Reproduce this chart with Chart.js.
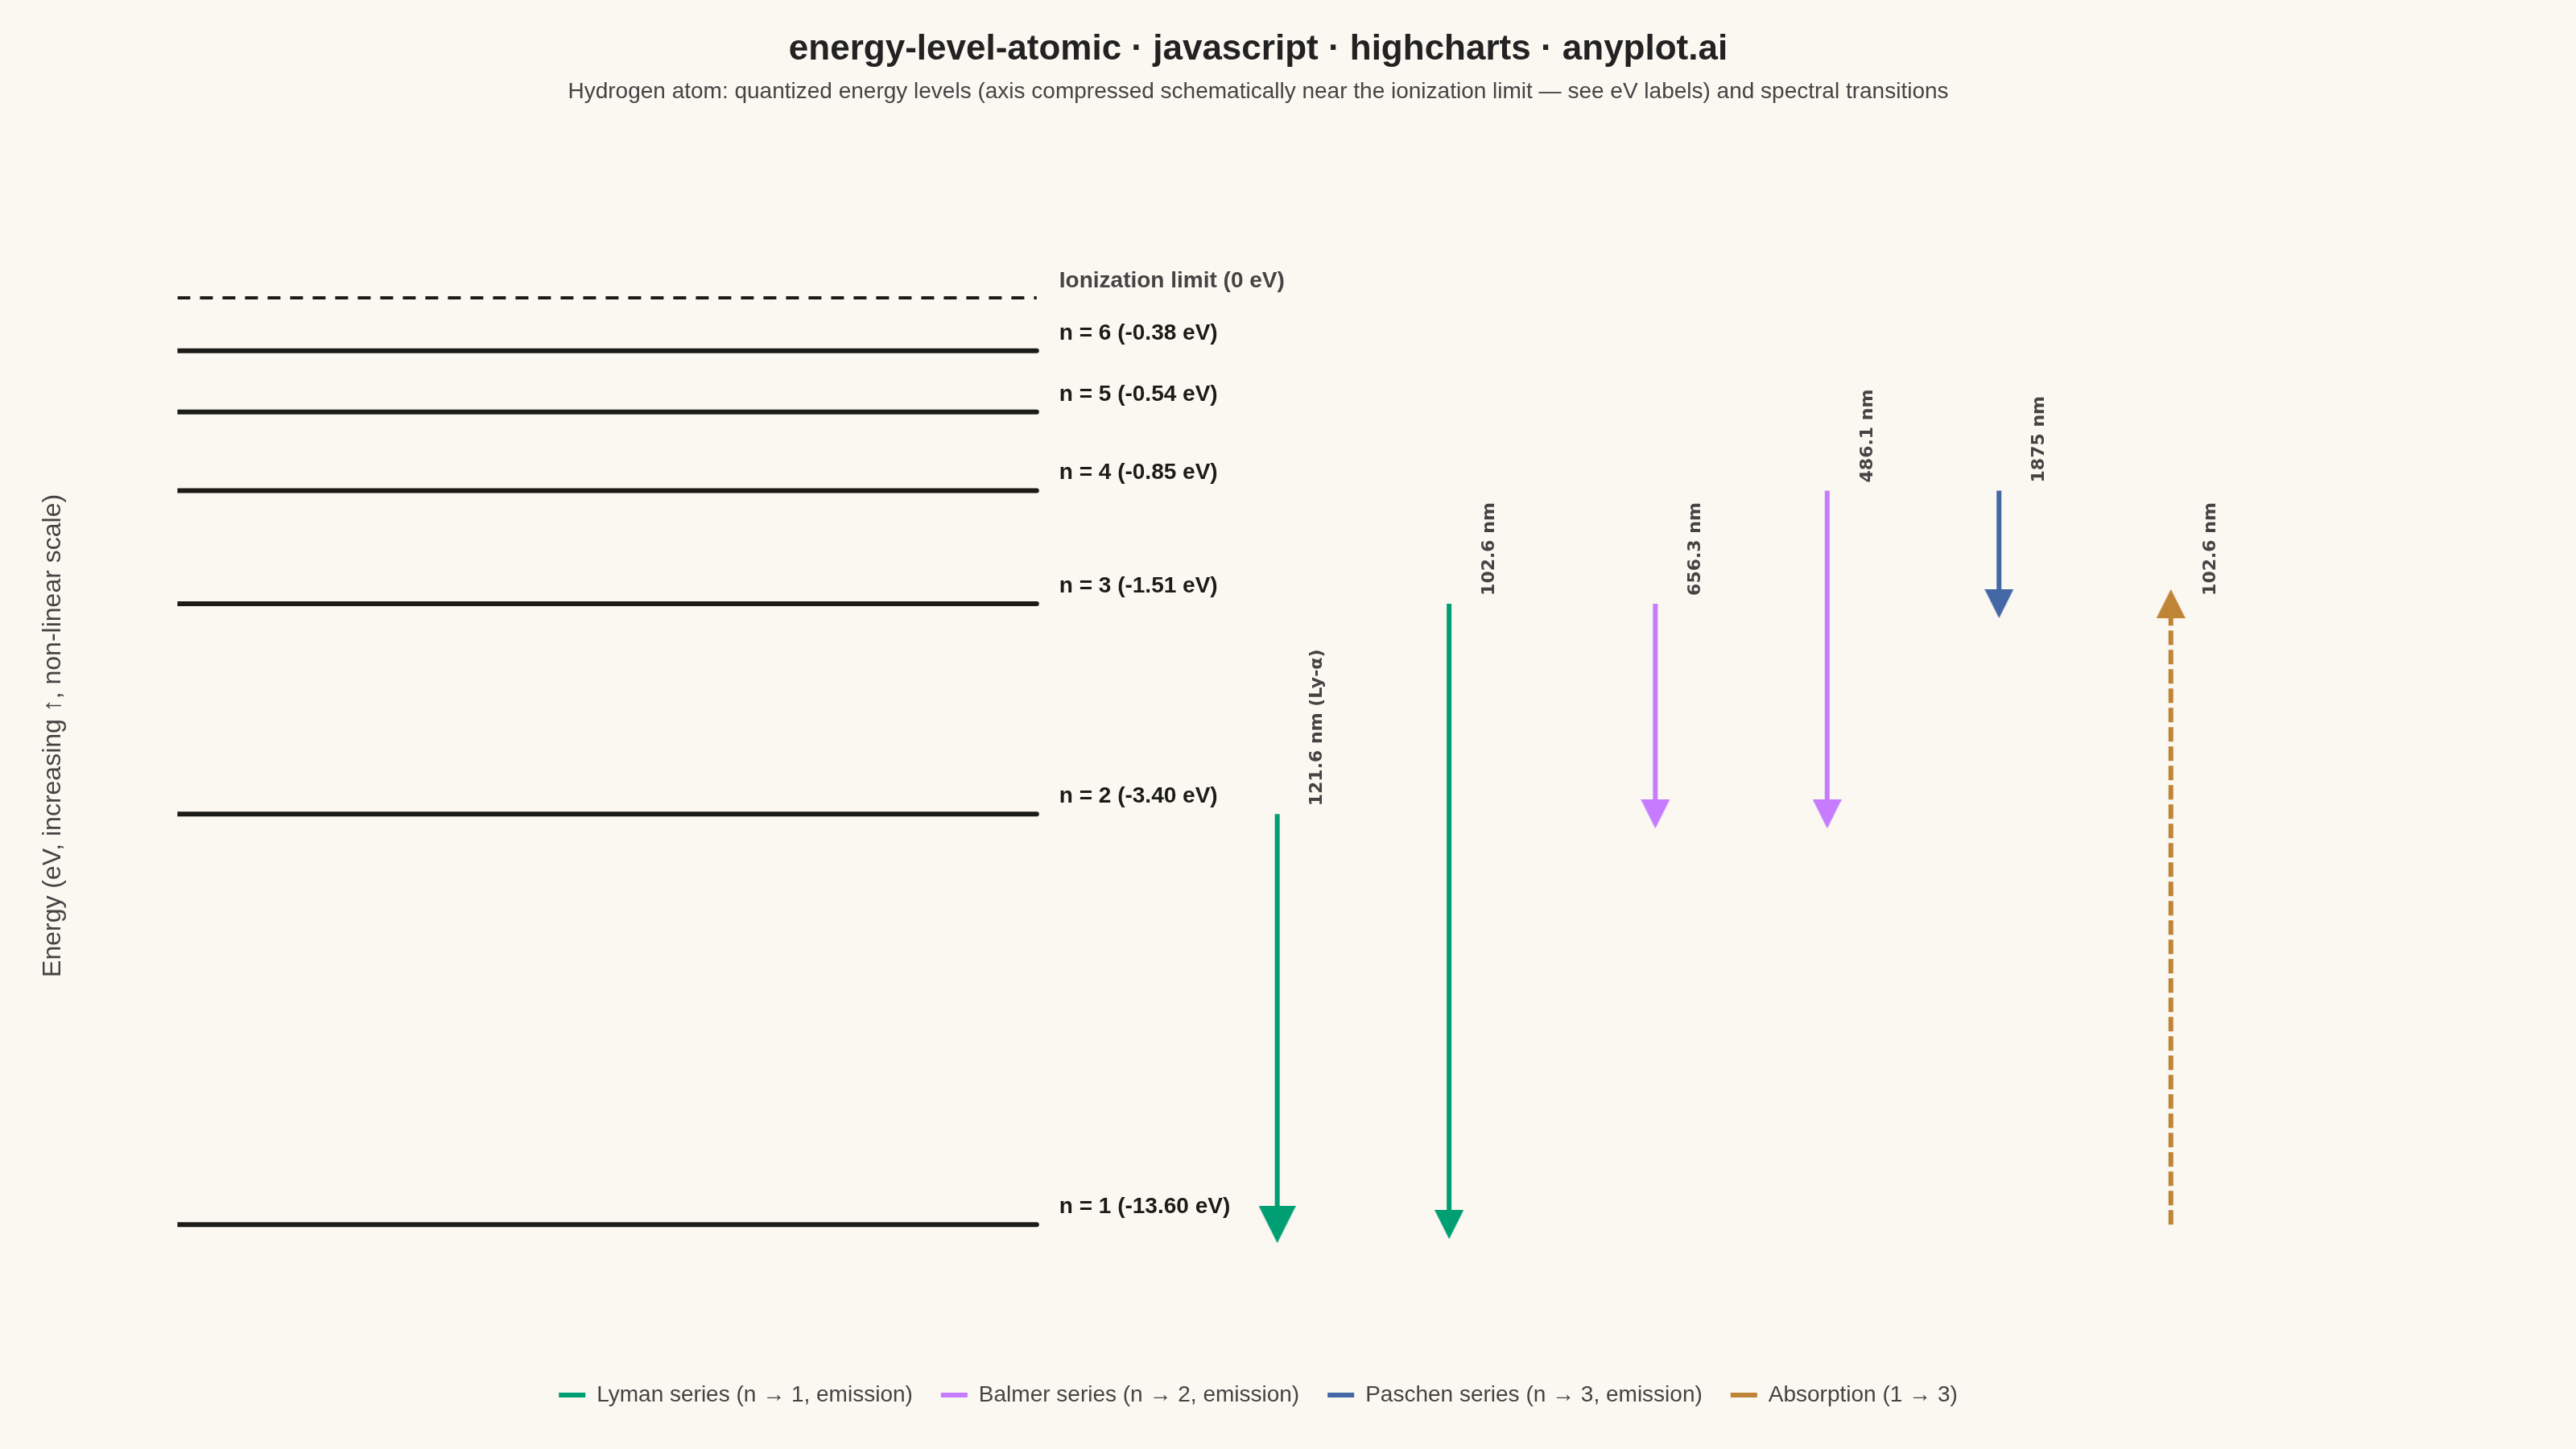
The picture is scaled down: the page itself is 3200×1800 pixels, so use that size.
<!DOCTYPE html>
<html lang="en">
<head>
<meta charset="UTF-8" />
<title>energy-level-atomic</title>
<script src="https://cdn.jsdelivr.net/npm/chart.js"></script>
<style>
  body { margin: 0; background: #faf8f1; }
  #chart { display: block; }
</style>
</head>
<body>
<canvas id="chart" width="3200" height="1800"></canvas>
<script>
  // hydrogen levels: quantum number, energy (eV), position on the compressed schematic axis
  const levelN = [1, 2, 3, 4, 5, 6];
  const levelEnergy = [-13.6, -3.4, -1.51, -0.85, -0.54, -0.38];
  const levelPos = [0, 4.43, 6.70, 7.92, 8.77, 9.43];
  const ionizationPos = 10;

  // transitions (upper/lower n, column on the x axis, wavelength label, series index)
  const transFrom = [2, 3, 3, 4, 4, 1];
  const transTo = [1, 1, 2, 2, 3, 3];
  const transSlot = [6.4, 7.4, 8.6, 9.6, 10.6, 11.6];
  const transLabel = ["121.6 nm (Ly-α)", "102.6 nm", "656.3 nm", "486.1 nm", "1875 nm", "102.6 nm"];
  const transSeries = [0, 0, 1, 1, 2, 3];

  const seriesNames = [
    "Lyman series (n → 1, emission)",
    "Balmer series (n → 2, emission)",
    "Paschen series (n → 3, emission)",
    "Absorption (1 → 3)"
  ];
  const seriesColors = ["#009E73", "#C77CFF", "#4467A6", "#BF8436"];

  const INK = "#1b1b18";
  Chart.defaults.font.family = "'Liberation Sans', Arial, sans-serif";

  // triangle marker drawn into a small canvas, used as pointStyle
  function triangle(size, color, up) {
    const c = document.createElement("canvas");
    c.width = size;
    c.height = size;
    const g = c.getContext("2d");
    g.fillStyle = color;
    g.beginPath();
    if (up) {
      g.moveTo(size / 2, 0); g.lineTo(size, size); g.lineTo(0, size);
    } else {
      g.moveTo(0, 0); g.lineTo(size, 0); g.lineTo(size / 2, size);
    }
    g.closePath();
    g.fill();
    return c;
  }

  const posOf = n => levelPos[levelN.indexOf(n)];

  const datasets = [];

  // level lines
  levelN.forEach((n, i) => {
    datasets.push({
      kind: "level",
      data: [{ x: 0, y: levelPos[i] }, { x: 5, y: levelPos[i] }],
      borderColor: INK,
      borderWidth: 6,
      borderCapStyle: "round",
      pointRadius: 0
    });
  });
  datasets.push({
    kind: "level",
    data: [{ x: 0, y: ionizationPos }, { x: 5, y: ionizationPos }],
    borderColor: INK,
    borderWidth: 4,
    borderDash: [16, 12],
    pointRadius: 0
  });

  // transition arrows
  const seen = {};
  transFrom.forEach((from, i) => {
    const s = transSeries[i];
    const color = seriesColors[s];
    const up = transTo[i] > from;
    const head = triangle(i === 0 ? 46 : 36, color, up);
    datasets.push({
      kind: "arrow",
      inLegend: !seen[s],
      label: seriesNames[s],
      data: [{ x: transSlot[i], y: posOf(from) }, { x: transSlot[i], y: posOf(transTo[i]) }],
      borderColor: color,
      backgroundColor: color,
      borderWidth: 6,
      borderDash: s === 3 ? [18, 6] : [],
      pointRadius: [0, 10],
      pointStyle: head
    });
    seen[s] = true;
  });

  const labelPlugin = {
    id: "levelLabels",
    afterDatasetsDraw(chart) {
      const { ctx, scales: { x, y } } = chart;
      ctx.save();
      // level names
      ctx.textAlign = "left";
      ctx.textBaseline = "alphabetic";
      ctx.font = "bold 28px 'Liberation Sans', Arial, sans-serif";
      const lx = x.getPixelForValue(5) + 28;
      levelN.forEach((n, i) => {
        ctx.fillStyle = INK;
        ctx.fillText(`n = ${n} (${levelEnergy[i].toFixed(2)} eV)`, lx, y.getPixelForValue(levelPos[i]) - 14);
      });
      ctx.fillStyle = "#444444";
      ctx.fillText("Ionization limit (0 eV)", lx, y.getPixelForValue(ionizationPos) - 13);

      // wavelength labels, vertical, above the upper end of each arrow
      ctx.font = "bold 22px 'DejaVu Sans', sans-serif";
      ctx.fillStyle = "#444444";
      ctx.textBaseline = "middle";
      transFrom.forEach((from, i) => {
        const top = Math.max(posOf(from), posOf(transTo[i]));
        ctx.save();
        ctx.translate(x.getPixelForValue(transSlot[i]) + 50, y.getPixelForValue(top) - 10);
        ctx.rotate(-Math.PI / 2);
        ctx.fillText(transLabel[i], 0, 0);
        ctx.restore();
      });
      ctx.restore();
    }
  };

  new Chart(document.getElementById("chart"), {
    type: "line",
    data: { datasets },
    plugins: [labelPlugin],
    options: {
      responsive: false,
      devicePixelRatio: 1,
      animation: false,
      events: [],
      layout: { padding: { left: 45, right: 119, top: 0, bottom: 43 } },
      plugins: {
        title: {
          display: true,
          text: "energy-level-atomic · javascript · highcharts · anyplot.ai",
          color: "#222222",
          font: { size: 44, weight: "bold" },
          padding: { top: 35, bottom: 10 }
        },
        subtitle: {
          display: true,
          text: "Hydrogen atom: quantized energy levels (axis compressed schematically near the ionization limit — see eV labels) and spectral transitions",
          color: "#444444",
          font: { size: 28 },
          padding: { top: 0, bottom: 48 }
        },
        legend: {
          position: "bottom",
          labels: {
            usePointStyle: true,
            pointStyle: "line",
            pointStyleWidth: 33,
            color: "#444444",
            font: { size: 28 },
            padding: 35,
            filter: (item, data) => data.datasets[item.datasetIndex].inLegend === true
          }
        },
        tooltip: { enabled: false }
      },
      scales: {
        x: { type: "linear", min: 0, max: 13.4, display: false },
        y: {
          type: "linear",
          min: -1.414,
          max: 11.656,
          ticks: { display: false },
          grid: { display: false },
          border: { display: false },
          title: {
            display: true,
            text: "    Energy (eV, increasing ↑, non-linear scale)",
            color: "#444444",
            font: { size: 32 },
            padding: { top: 2, bottom: 127 }
          }
        }
      }
    }
  });
</script>
</body>
</html>
